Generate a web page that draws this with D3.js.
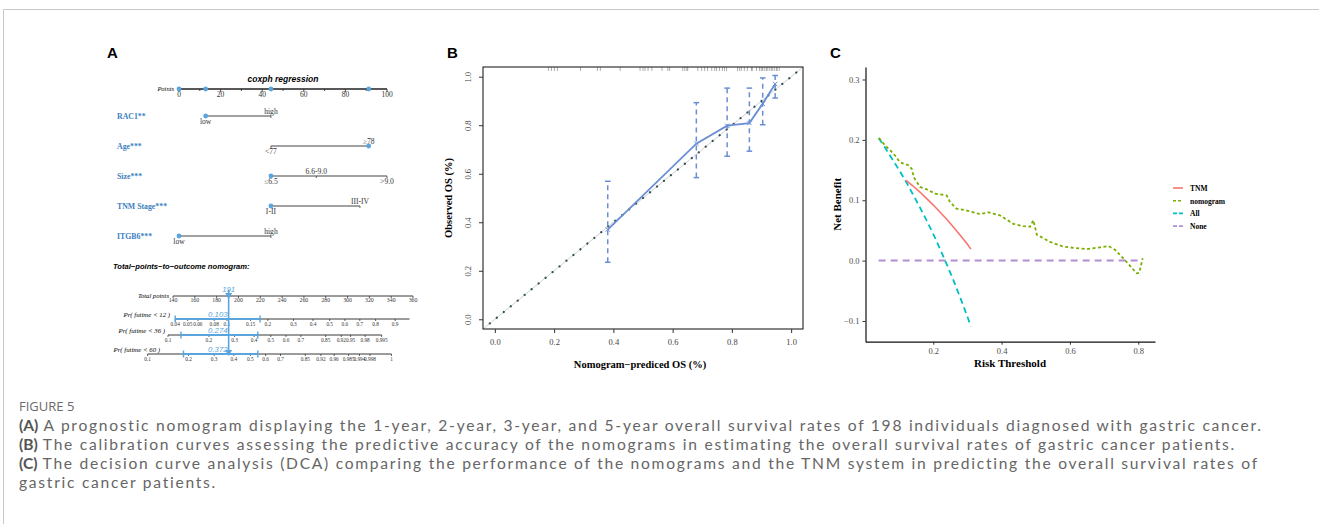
<!DOCTYPE html>
<html>
<head>
<meta charset="utf-8">
<script src="https://cdn.jsdelivr.net/npm/d3@7"></script>
<style>
  body { margin: 0; background: #fff; }
  svg text { font-family: "Liberation Serif", "Times New Roman", serif; }
</style>
</head>
<body>
<svg id="fig" width="1319" height="524"></svg>
<script>
// ---------------- data ----------------
// panel A: nomogram
const pointsTicks = [0, 10, 20, 30, 40, 50, 60, 70, 80, 90, 100];
const varNames = ["RAC1**", "Age***", "Size***", "TNM Stage***", "ITGB6***"];
const varLevels = [
  [["low", 12.8], ["high", 44.2]],
  [["<77", 44.2], ["\u226578", 91.2]],
  [["\u22646.5", 44.2], ["6.6-9.0", 66], [">9.0", 100]],
  [["I-II", 44.2], ["III-IV", 87]],
  [["low", 0], ["high", 44.2]]
];
const varSelected = [12.8, 91.2, 44.2, 44.2, 0];
const totalTicks = [140, 160, 180, 200, 220, 240, 260, 280, 300, 320, 340, 360];
const totalScore = 191;
const probNames = ["Pr( futime < 12 )", "Pr( futime < 36 )", "Pr( futime < 60 )"];
const probAtScore = [0.103, 0.274, 0.372];
const probTicks = [
  [0.04, 0.05, 0.06, 0.08, 0.1, 0.15, 0.2, 0.3, 0.4, 0.5, 0.6, 0.7, 0.8, 0.9],
  [0.1, 0.2, 0.3, 0.4, 0.5, 0.6, 0.7, 0.85, 0.92, 0.95, 0.98, 0.995],
  [0.1, 0.2, 0.3, 0.4, 0.5, 0.6, 0.7, 0.85, 0.92, 0.96, 0.985, 0.994, 0.998, 0.9999]
];
const probRange = [[0.04, 0.95], [0.1, 0.995], [0.1, 0.9999]];
const probCI = [[0.04, 0.176], [0.125, 0.421], [0.184, 0.548]];
const pointsPerCloglog = 50;

// panel B: calibration
const calTicks = [0, 0.2, 0.4, 0.6, 0.8, 1.0];
const calPred = [0.381, 0.680, 0.784, 0.859, 0.904, 0.946];
const calObs  = [0.370, 0.724, 0.798, 0.809, 0.889, 0.970];
const calLow  = [0.235, 0.584, 0.672, 0.693, 0.802, 0.912];
const calHigh = [0.569, 0.893, 0.953, 0.953, 0.995, 1.005];
const rugPred = [0.181, 0.191, 0.201, 0.211, 0.289, 0.346, 0.356, 0.423, 0.49, 0.50, 0.507,
  0.517, 0.53, 0.564, 0.584, 0.59, 0.634, 0.641, 0.648, 0.651, 0.685, 0.698, 0.708, 0.718,
  0.732, 0.742, 0.748, 0.758, 0.768, 0.775, 0.782, 0.819, 0.826, 0.832, 0.842, 0.852, 0.866,
  0.869, 0.883, 0.893, 0.899, 0.903, 0.909, 0.916, 0.919, 0.926, 0.933, 0.936, 0.943, 0.95,
  0.953, 0.96];

// panel C: decision curves
const dcaTicksX = [0.2, 0.4, 0.6, 0.8];
const dcaTicksY = [-0.1, 0.0, 0.1, 0.2, 0.3];
const dcaNames = ["TNM", "nomogram", "All", "None"];
const dcaColors = ["#F8766D", "#7CAE00", "#00BFC4", "#B38DD3"];
const tnmT  = [0.12, 0.14, 0.16, 0.18, 0.20, 0.22, 0.24, 0.26, 0.28, 0.30, 0.31];
const tnmNB = [0.133, 0.124, 0.114, 0.103, 0.092, 0.080, 0.068, 0.055, 0.041, 0.027, 0.019];
const nomoT  = [0.041, 0.06, 0.075, 0.088, 0.102, 0.127, 0.137, 0.143, 0.161, 0.181, 0.205,
  0.239, 0.249, 0.268, 0.298, 0.337, 0.361, 0.395, 0.434, 0.464, 0.483, 0.493, 0.503, 0.542,
  0.581, 0.649, 0.688, 0.713, 0.732, 0.761, 0.795, 0.803, 0.813];
const nomoNB = [0.203, 0.190, 0.182, 0.174, 0.163, 0.158, 0.152, 0.138, 0.122, 0.118, 0.111,
  0.108, 0.097, 0.086, 0.083, 0.077, 0.080, 0.075, 0.061, 0.057, 0.056, 0.067, 0.043, 0.031,
  0.023, 0.019, 0.022, 0.024, 0.018, 0.001, -0.021, -0.020, 0.004];
const allT  = [0.04, 0.06, 0.08, 0.10, 0.12, 0.14, 0.16, 0.18, 0.20, 0.22, 0.24, 0.26, 0.28, 0.30, 0.31];
const allNB = [0.203, 0.186, 0.168, 0.150, 0.131, 0.110, 0.089, 0.067, 0.044, 0.019, -0.007,
  -0.034, -0.063, -0.093, -0.109];
const noneT  = [0.04, 0.81];
const noneNB = [0, 0];

const captionLines = [
  ["(A)", "A prognostic nomogram displaying the 1-year, 2-year, 3-year, and 5-year overall survival rates of 198 individuals diagnosed with gastric cancer."],
  ["(B)", "The calibration curves assessing the predictive accuracy of the nomograms in estimating the overall survival rates of gastric cancer patients."],
  ["(C)", "The decision curve analysis (DCA) comparing the performance of the nomograms and the TNM system in predicting the overall survival rates of"],
  ["", "gastric cancer patients."]
];

// ---------------- drawing ----------------
const svg = d3.select("#fig");

// frame
svg.append("path")
  .attr("d", "M3.5,524 V9.5 H1319")
  .attr("fill", "none").attr("stroke", "#c8c8c8").attr("stroke-width", 1);

// panel letters
[["A", 107], ["B", 447], ["C", 830]].forEach(d => {
  svg.append("text").attr("x", d[1]).attr("y", 58)
    .style("font-family", "Liberation Sans, Arial, sans-serif")
    .style("font-weight", "bold").style("font-size", "15px").text(d[0]);
});

// ===== Panel A =====
const gA = svg.append("g");
const blue = "#5aa5dd";
const xP = d3.scaleLinear().domain([0, 100]).range([179, 387]);

gA.append("text").attr("x", 283).attr("y", 82).attr("text-anchor", "middle")
  .style("font-family", "Liberation Sans, Arial, sans-serif")
  .style("font-weight", "bold").style("font-style", "italic").style("font-size", "8.5px")
  .text("coxph regression");

// points axis
gA.append("line").attr("x1", xP(0)).attr("x2", xP(100)).attr("y1", 89).attr("y2", 89)
  .attr("stroke", "#222").attr("stroke-width", 1.4);
gA.selectAll(".ptick").data(pointsTicks).enter().append("line")
  .attr("x1", d => xP(d)).attr("x2", d => xP(d)).attr("y1", 89).attr("y2", d => d % 20 === 0 ? 92 : 91)
  .attr("stroke", "#222").attr("stroke-width", 0.8);
gA.selectAll(".plab").data(pointsTicks.filter(d => d % 20 === 0)).enter().append("text")
  .attr("x", d => xP(d)).attr("y", 96.5).attr("text-anchor", "middle")
  .style("font-size", "7.5px").attr("fill", "#333").text(d => d);
gA.append("text").attr("x", 174).attr("y", 91).attr("text-anchor", "end")
  .style("font-size", "6.5px").style("font-style", "italic").text("Points");
gA.selectAll(".pdot").data([0, 12.8, 44.2, 91.2]).enter().append("circle")
  .attr("cx", d => xP(d)).attr("cy", 89).attr("r", 2.4).attr("fill", blue);

// variable rows
varNames.forEach((name, i) => {
  const y = 116 + i * 30;
  const lv = varLevels[i];
  gA.append("text").attr("x", 117).attr("y", y + 3)
    .style("font-size", "7.8px").style("font-weight", "bold").attr("fill", "#3b80c0").text(name);
  const ext = d3.extent(lv, d => d[1]);
  gA.append("line").attr("x1", xP(ext[0])).attr("x2", xP(ext[1])).attr("y1", y).attr("y2", y)
    .attr("stroke", "#444").attr("stroke-width", 1);
  lv.forEach((d, j) => {
    gA.append("line").attr("x1", xP(d[1])).attr("x2", xP(d[1]))
      .attr("y1", y).attr("y2", y + 2).attr("stroke", "#444").attr("stroke-width", 0.8);
    gA.append("text").attr("x", xP(d[1])).attr("y", j % 2 === 0 ? y + 8 : y - 2)
      .attr("text-anchor", "middle").style("font-size", "7.6px").attr("fill", "#333").text(d[0]);
  });
  gA.append("circle").attr("cx", xP(varSelected[i])).attr("cy", y).attr("r", 2.4).attr("fill", blue);
});

gA.append("text").attr("x", 113).attr("y", 269)
  .style("font-family", "Liberation Sans, Arial, sans-serif")
  .style("font-weight", "bold").style("font-style", "italic").style("font-size", "7.6px")
  .text("Total\u2212points\u2212to\u2212outcome nomogram:");

// total points axis
const xT = d3.scaleLinear().domain([140, 360]).range([173, 413]);
gA.append("line").attr("x1", xT(140)).attr("x2", xT(360)).attr("y1", 296).attr("y2", 296)
  .attr("stroke", "#222").attr("stroke-width", 0.9);
gA.selectAll(".ttick").data(totalTicks).enter().append("line")
  .attr("x1", d => xT(d)).attr("x2", d => xT(d)).attr("y1", 296).attr("y2", 298)
  .attr("stroke", "#222").attr("stroke-width", 0.7);
gA.selectAll(".tlab").data(totalTicks).enter().append("text")
  .attr("x", d => xT(d)).attr("y", 302).attr("text-anchor", "middle")
  .style("font-size", "5.8px").attr("fill", "#333").text(d => d);
gA.append("text").attr("x", 169).attr("y", 298).attr("text-anchor", "end")
  .style("font-size", "6.6px").style("font-style", "italic").text("Total points");

// probability axes
const cloglog = p => Math.log(-Math.log(1 - p));
const probY = [319, 335, 354];
const probLabelX = [170, 165, 160];
const probPx = (p, i) => xT(totalScore + (cloglog(p) - cloglog(probAtScore[i])) * pointsPerCloglog);
probNames.forEach((name, i) => {
  const y = probY[i];
  gA.append("line").attr("x1", probPx(probRange[i][0], i)).attr("x2", probPx(probRange[i][1], i))
    .attr("y1", y).attr("y2", y).attr("stroke", "#222").attr("stroke-width", 0.9);
  gA.selectAll(".pt" + i).data(probTicks[i]).enter().append("line")
    .attr("x1", d => probPx(d, i)).attr("x2", d => probPx(d, i)).attr("y1", y).attr("y2", y + 2)
    .attr("stroke", "#222").attr("stroke-width", 0.7);
  gA.selectAll(".pl" + i).data(probTicks[i]).enter().append("text")
    .attr("x", d => probPx(d, i)).attr("y", y + 6.5).attr("text-anchor", "middle")
    .style("font-size", "5.3px").attr("fill", "#333").text(d => d >= 0.9999 ? "1" : d);
  gA.append("text").attr("x", probLabelX[i]).attr("y", y - 2).attr("text-anchor", "end")
    .style("font-size", "6.8px").style("font-style", "italic").text(name);
  // CI bar
  const c0 = probPx(probCI[i][0], i), c1 = probPx(probCI[i][1], i);
  gA.append("line").attr("x1", c0).attr("x2", c1).attr("y1", y).attr("y2", y)
    .attr("stroke", blue).attr("stroke-width", 2);
  [c0, c1].forEach(cx => gA.append("line").attr("x1", cx).attr("x2", cx)
    .attr("y1", y - 3.5).attr("y2", y + 3.5).attr("stroke", blue).attr("stroke-width", 1.4));
  gA.append("text").attr("x", xT(totalScore) - 1).attr("y", y - 2).attr("text-anchor", "end")
    .style("font-family", "Liberation Sans, Arial, sans-serif").style("font-style", "italic")
    .style("font-size", "7.8px").attr("fill", blue).text(probAtScore[i]);
});

// score line
const sx = xT(totalScore);
gA.append("line").attr("x1", sx).attr("x2", sx).attr("y1", 290).attr("y2", 354)
  .attr("stroke", blue).attr("stroke-width", 1.6);
[295, 352].forEach(ty => gA.append("path")
  .attr("d", d3.symbol(d3.symbolTriangle, 22)())
  .attr("transform", `translate(${sx},${ty}) rotate(180)`).attr("fill", blue));
gA.append("text").attr("x", sx).attr("y", 292).attr("text-anchor", "middle")
  .style("font-family", "Liberation Sans, Arial, sans-serif").style("font-style", "italic")
  .style("font-size", "7.8px").attr("fill", blue).text(totalScore);

// ===== Panel B =====
const gB = svg.append("g");
const xB = d3.scaleLinear().domain([-0.04, 1.04]).range([483, 803]);
const yB = d3.scaleLinear().domain([-0.04, 1.04]).range([329, 67]);
const calColor = "#6a8ed5";

gB.append("defs").append("clipPath").attr("id", "clipB").append("rect")
  .attr("x", 483).attr("y", 67).attr("width", 320).attr("height", 262);

// ideal line
gB.append("line").attr("clip-path", "url(#clipB)")
  .attr("x1", xB(-0.04)).attr("y1", yB(-0.04)).attr("x2", xB(1.04)).attr("y2", yB(1.04))
  .attr("stroke", "#d0d0d0").attr("stroke-width", 1);
gB.append("line").attr("clip-path", "url(#clipB)")
  .attr("x1", xB(-0.017)).attr("y1", yB(-0.017)).attr("x2", xB(1.04)).attr("y2", yB(1.04))
  .attr("stroke", "#2f4f4f").attr("stroke-width", 2.2).attr("stroke-linecap", "round")
  .attr("stroke-dasharray", "0.1,8.9");

// rug
gB.selectAll(".rug").data(rugPred).enter().append("line")
  .attr("x1", d => xB(d)).attr("x2", d => xB(d)).attr("y1", 67).attr("y2", 71)
  .attr("stroke", "#777").attr("stroke-width", 0.6);

// error bars
calPred.forEach((p, i) => {
  gB.append("line").attr("x1", xB(p)).attr("x2", xB(p)).attr("y1", yB(calLow[i])).attr("y2", yB(calHigh[i]))
    .attr("stroke", calColor).attr("stroke-width", 1.5).attr("stroke-dasharray", "5,4");
  [calLow[i], calHigh[i]].forEach(v => gB.append("line")
    .attr("x1", xB(p) - 2.8).attr("x2", xB(p) + 2.8).attr("y1", yB(v)).attr("y2", yB(v))
    .attr("stroke", calColor).attr("stroke-width", 1.5));
});
const calLine = d3.line().x(d => xB(d[0])).y(d => yB(d[1]));
gB.append("path").attr("d", calLine(calPred.map((p, i) => [p, calObs[i]])))
  .attr("fill", "none").attr("stroke", calColor).attr("stroke-width", 1.8);
gB.selectAll(".cx").data(calPred).enter().append("path")
  .attr("d", d3.symbol(d3.symbolX, 14)())
  .attr("transform", (d, i) => `translate(${xB(d)},${yB(calObs[i])})`)
  .attr("fill", "none").attr("stroke", calColor).attr("stroke-width", 1);

// box and axes
gB.append("rect").attr("x", 483).attr("y", 67).attr("width", 320).attr("height", 262)
  .attr("fill", "none").attr("stroke", "#222").attr("stroke-width", 1.1);
const axBx = gB.append("g").attr("transform", "translate(0,329)")
  .call(d3.axisBottom(xB).tickValues(calTicks).tickFormat(d3.format(".1f")).tickSizeInner(4).tickSizeOuter(0));
const axBy = gB.append("g").attr("transform", "translate(483,0)")
  .call(d3.axisLeft(yB).tickValues(calTicks).tickFormat(d3.format(".1f")).tickSizeInner(4).tickSizeOuter(0));
[axBx, axBy].forEach(a => {
  a.select(".domain").remove();
  a.selectAll("line").attr("stroke", "#333");
  a.selectAll("text").style("font-family", "Liberation Serif, serif").style("font-size", "8.5px").attr("fill", "#444");
});
axBx.selectAll("text").attr("y", 10);
axBy.selectAll("text").attr("text-anchor", "middle").attr("x", 0).attr("dy", 0)
  .attr("transform", "translate(-12,0) rotate(-90)");
gB.append("text").attr("x", 640).attr("y", 368).attr("text-anchor", "middle")
  .style("font-weight", "bold").style("font-size", "10.5px").text("Nomogram\u2212prediced OS (%)");
gB.append("text").attr("transform", `translate(452,${(67 + 329) / 2}) rotate(-90)`)
  .attr("text-anchor", "middle").style("font-weight", "bold").style("font-size", "10.5px")
  .text("Observed OS (%)");

// ===== Panel C =====
const gC = svg.append("g");
const xC = d3.scaleLinear().domain([0.0015, 0.849]).range([865.5, 1155]);
const yC = d3.scaleLinear().domain([-0.1343, 0.3207]).range([341.7, 67]);
const dLine = d3.line().x(d => xC(d[0])).y(d => yC(d[1]));
const zip = (a, b) => a.map((v, i) => [v, b[i]]);

gC.append("path").attr("d", dLine(zip(noneT, noneNB))).attr("fill", "none")
  .attr("stroke", dcaColors[3]).attr("stroke-width", 2).attr("stroke-dasharray", "7,5");
gC.append("path").attr("d", dLine(zip(allT, allNB))).attr("fill", "none")
  .attr("stroke", dcaColors[2]).attr("stroke-width", 1.8).attr("stroke-dasharray", "6,4");
gC.append("path").attr("d", dLine(zip(tnmT, tnmNB))).attr("fill", "none")
  .attr("stroke", dcaColors[0]).attr("stroke-width", 1.6);
gC.append("path").attr("d", dLine(zip(nomoT, nomoNB))).attr("fill", "none")
  .attr("stroke", dcaColors[1]).attr("stroke-width", 1.8).attr("stroke-dasharray", "3,2.5");

const axCx = gC.append("g").attr("transform", "translate(0,341.7)")
  .call(d3.axisBottom(xC).tickValues(dcaTicksX).tickFormat(d3.format(".1f")).tickSizeInner(3).tickSizeOuter(0));
const axCy = gC.append("g").attr("transform", "translate(865.5,0)")
  .call(d3.axisLeft(yC).tickValues(dcaTicksY).tickFormat(d3.format(".1f")).tickSizeInner(3).tickSizeOuter(0));
[axCx, axCy].forEach(a => {
  a.select(".domain").attr("stroke", "#111").attr("stroke-width", 1.2);
  a.selectAll(".tick line").attr("stroke", "#333");
  a.selectAll("text").style("font-family", "Liberation Serif, serif").style("font-size", "8.5px").attr("fill", "#4d4d4d");
});
axCy.selectAll("text").text(d => d < 0 ? "\u22120.1" : d3.format(".1f")(d));
gC.append("text").attr("x", 1010).attr("y", 367).attr("text-anchor", "middle")
  .style("font-weight", "bold").style("font-size", "11px").text("Risk Threshold");
gC.append("text").attr("transform", `translate(841,${(67 + 341.7) / 2}) rotate(-90)`)
  .attr("text-anchor", "middle").style("font-weight", "bold").style("font-size", "11px")
  .text("Net Benefit");

// legend
const legDash = [null, "3,2", "4,2", "4,2"];
dcaNames.forEach((n, i) => {
  const ly = 188 + i * 12.7;
  gC.append("line").attr("x1", 1173).attr("x2", 1183).attr("y1", ly).attr("y2", ly)
    .attr("stroke", dcaColors[i]).attr("stroke-width", 1.6).attr("stroke-dasharray", legDash[i]);
  gC.append("text").attr("x", 1190).attr("y", ly + 2.8)
    .style("font-weight", "bold").style("font-size", "7.5px").text(n);
});

// ===== Caption =====
const cap = svg.append("g");
cap.append("text").attr("x", 19).attr("y", 411).style("font-family", "Open Sans, sans-serif")
  .style("font-size", "13px").attr("fill", "#6a6a6a").text("FIGURE 5");
// caption body: Lato keeps the line box under the 19px line pitch
const capFont = "Lato, sans-serif", capSize = "15.6px";
let spacing = null;
captionLines.forEach((l, i) => {
  const y = 431 + i * 19;
  let x = 19;
  if (l[0]) {
    const lab = cap.append("text").attr("x", x).attr("y", y)
      .style("font-family", capFont).style("font-size", capSize)
      .style("font-weight", "700").attr("fill", "#555").text(l[0]);
    x += lab.node().getComputedTextLength() + 5;
  }
  const t = cap.append("text").attr("x", x).attr("y", y)
    .style("font-family", capFont).style("font-size", capSize).attr("fill", "#666").text(l[1]);
  if (spacing === null) {
    // first line runs out to x = 1263 in the reference
    spacing = (1263 - x - t.node().getComputedTextLength()) / l[1].length;
  }
  t.style("letter-spacing", spacing + "px");
});
</script>
</body>
</html>
